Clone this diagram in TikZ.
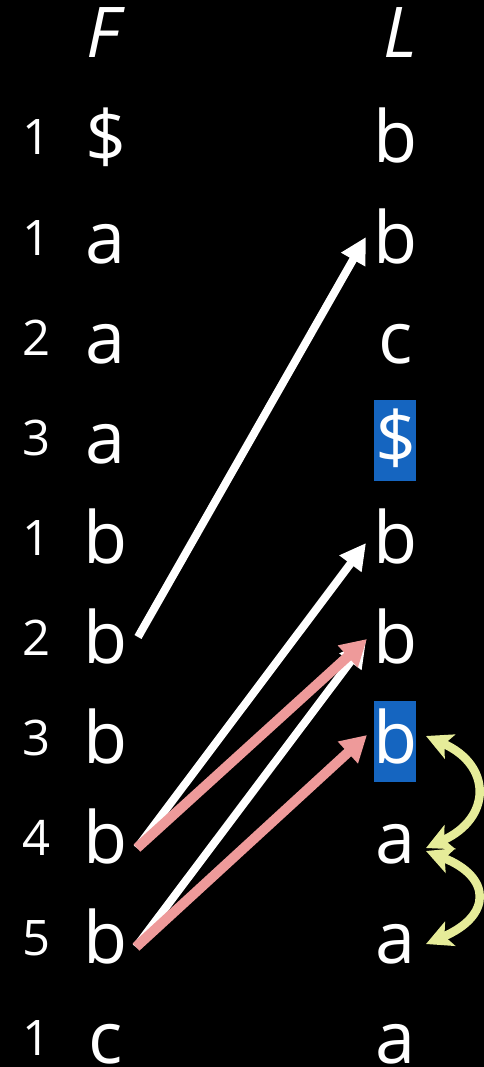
\documentclass[tikz,border=0pt]{standalone}
\usepackage{fontspec}
\setmainfont{Open Sans}
\usetikzlibrary{arrows.meta,calc}
\definecolor{hlblue}{HTML}{1565C0}
\definecolor{pinkarr}{HTML}{EE9A9A}
\definecolor{yelarr}{HTML}{E6EC99}
\tikzset{
  letter/.style={text=white,font=\fontsize{72}{80}\selectfont,anchor=base,inner sep=0pt},
  num/.style={text=white,font=\fontsize{49}{56}\selectfont,anchor=base,inner sep=0pt},
  head/.style={text=white,font=\fontsize{70}{80}\selectfont\itshape,anchor=base,inner sep=0pt},
  hl/.style={fill=hlblue,draw=none,minimum width=42pt,minimum height=81pt,inner sep=0pt},
  warr/.style={draw=white,line width=8pt,-{Triangle[length=26pt,width=26pt]}},
  parr/.style={draw=pinkarr,line width=10pt,-{Triangle[length=26pt,width=28pt]}},
  yarr/.style={draw=yelarr,line width=8.5pt,{Stealth[length=26pt,width=26pt,inset=6pt]}-{Stealth[length=26pt,width=26pt,inset=6pt]}},
}
\begin{document}
\begin{tikzpicture}[x=1pt,y=-1pt]
\fill[black] (0,0) rectangle (484,1067);
\useasboundingbox (0,0) rectangle (484,1067);
\clip (0,0) rectangle (484,1067);
% highlights
\node[hl] (h4) at (395,440.5) {};
\node[hl] (h7) at (395,741.5) {};
% headers
\node[head] (HF) at (103,58) {F};
\node[head] (HL) at (400,58) {L};
% numbers
\foreach \i/\n in {1/1,2/1,3/2,4/3,5/1,6/2,7/3,8/4,9/5,10/1}{
  \node[num] (N\i) at (37,{155+(\i-1)*100}) {\n};
}
% F column
\foreach \i/\c in {1/\$,2/a,3/a,4/a,5/b,6/b,7/b,8/b,9/b,10/c}{
  \node[letter] (F\i) at (106,{163+(\i-1)*100}) {\c};
}
% L column
\foreach \i/\c in {1/b,2/b,3/c,4/\$,5/b,6/b,7/b,8/a,9/a,10/a}{
  \node[letter] (L\i) at (396,{163+(\i-1)*100}) {\c};
}
% arrow end points
\coordinate (t6) at (138,637);
\coordinate (t8) at (137,848);
\coordinate (t9) at (136,947);
\coordinate (e2) at (366,237);
\coordinate (e5) at (366,543);
\coordinate (e6w) at (366,641);
\coordinate (e6) at (367,639);
\coordinate (e7) at (367,735);
\draw[warr] (t6) -- (e2);
\draw[warr] (t8) -- (e5);
\draw[warr] (t9) -- (e6w);
\draw[parr] (t8) -- (e6);
\draw[parr] (t9) -- (e7);
% yellow swaps
\coordinate (y7) at (426,736);
\coordinate (y8a) at (426,848);
\coordinate (y8b) at (426,851);
\coordinate (y9) at (426,944);
\draw[yarr] (y7) .. controls (492,765) and (492,818) .. (y8a);
\draw[yarr] (y8b) .. controls (492,877) and (492,916) .. (y9);
\end{tikzpicture}
\end{document}
